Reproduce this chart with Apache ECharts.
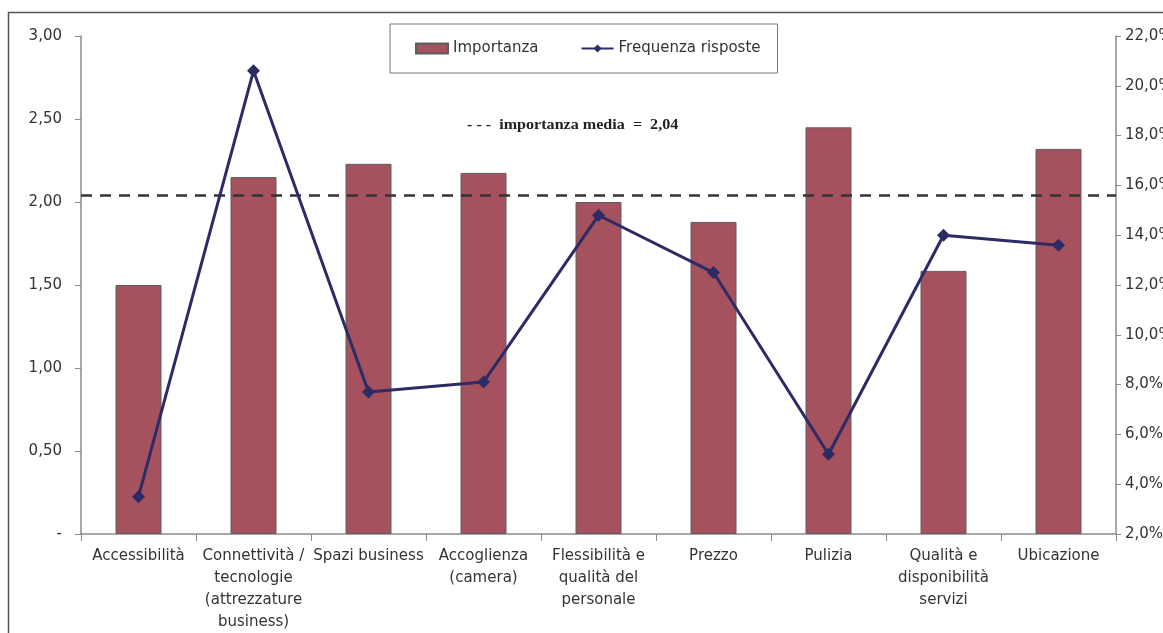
<!DOCTYPE html>
<html>
<head>
<meta charset="utf-8">
<script src="https://cdn.jsdelivr.net/npm/echarts@6/dist/echarts.min.js"></script>
<style>
  html, body { margin: 0; padding: 0; background: #ffffff; }
  #chart { width: 1163px; height: 633px; }
</style>
</head>
<body>
<div id="chart"></div>
<script>
// Fattori valutati
const categorie = [
  'Accessibilità',
  'Connettività /\ntecnologie\n(attrezzature\nbusiness)',
  'Spazi business',
  'Accoglienza\n(camera)',
  'Flessibilità e\nqualità del\npersonale',
  'Prezzo',
  'Pulizia',
  'Qualità e\ndisponibilità\nservizi',
  'Ubicazione'
];

// Importanza media attribuita (scala 0-3)
const importanza = [1.50, 2.15, 2.23, 2.175, 2.00, 1.88, 2.45, 1.585, 2.32];

// Frequenza delle risposte (%)
const frequenza = [3.5, 20.6, 7.7, 8.1, 14.8, 12.5, 5.2, 14.0, 13.6];

// Valore medio dell'importanza
const importanzaMedia = 2.04;

const fmtNum = (v, d) => v.toFixed(d).replace('.', ',');

const FONT = '"DejaVu Sans", "Liberation Sans", Arial, sans-serif';
const AXIS_GREY = '#8a8a8a';
const TEXT = '#333333';

const chart = echarts.init(document.getElementById('chart'), null, { renderer: 'canvas' });

chart.setOption({
  backgroundColor: '#ffffff',
  animation: false,
  textStyle: { fontFamily: FONT },
  grid: {
    left: 81, right: 47, top: 36, bottom: 99,
    containLabel: false,
    outerBoundsMode: 'none'
  },
  legend: {
    left: 390,
    top: 24,
    padding: [17, 17, 17, 25],
    itemGap: 42,
    itemWidth: 32,
    itemHeight: 10,
    borderColor: '#777777',
    borderWidth: 1,
    textStyle: { fontFamily: FONT, fontSize: 15, color: TEXT },
    data: [
      { name: 'Importanza', icon: 'rect' },
      { name: 'Frequenza risposte' }
    ]
  },
  graphic: [
    {
      // cornice dell'area del grafico
      type: 'rect',
      z: 0,
      silent: true,
      shape: { x: 8.5, y: 12.5, width: 1200, height: 700 },
      style: { fill: null, stroke: '#555555', lineWidth: 1.5 }
    },
    {
      type: 'text',
      left: 467,
      top: 118,
      z: 10,
      style: {
        text: '- - -  importanza media  =  ' + fmtNum(importanzaMedia, 2),
        font: 'bold 14px "Liberation Serif", "Times New Roman", serif',
        fill: '#222222'
      },
      scaleX: 1.15
    }
  ],
  xAxis: {
    type: 'category',
    data: categorie,
    boundaryGap: true,
    axisLine: { lineStyle: { color: AXIS_GREY, width: 1.5 } },
    axisTick: { show: true, length: 7, lineStyle: { color: AXIS_GREY } },
    axisLabel: {
      interval: 0,
      margin: 11,
      fontFamily: FONT,
      fontSize: 15,
      lineHeight: 22,
      color: TEXT,
      align: 'center'
    }
  },
  yAxis: [
    {
      type: 'value',
      min: 0,
      max: 3,
      interval: 0.5,
      position: 'left',
      splitLine: { show: false },
      axisLine: { show: true, lineStyle: { color: AXIS_GREY, width: 1.5 } },
      axisTick: { show: true, length: 6, lineStyle: { color: AXIS_GREY } },
      axisLabel: {
        margin: 19,
        fontFamily: FONT,
        fontSize: 15,
        color: TEXT,
        formatter: v => (v === 0 ? '-' : fmtNum(v, 2))
      }
    },
    {
      type: 'value',
      min: 2,
      max: 22,
      interval: 2,
      position: 'right',
      splitLine: { show: false },
      axisLine: { show: true, lineStyle: { color: AXIS_GREY, width: 1.5 } },
      axisTick: { show: true, length: 5, lineStyle: { color: AXIS_GREY } },
      axisLabel: {
        margin: 9,
        fontFamily: FONT,
        fontSize: 15,
        color: TEXT,
        formatter: v => fmtNum(v, 1) + '%'
      }
    }
  ],
  series: [
    {
      name: 'Importanza',
      type: 'bar',
      yAxisIndex: 0,
      data: importanza,
      barWidth: '40%',
      itemStyle: { color: '#A5515E', borderColor: '#5e5e5e', borderWidth: 1 },
      markLine: {
        silent: true,
        symbol: 'none',
        label: { show: false },
        lineStyle: { color: '#333333', type: [11, 8], width: 2.5 },
        data: [{ yAxis: importanzaMedia }]
      },
      z: 2
    },
    {
      name: 'Frequenza risposte',
      type: 'line',
      yAxisIndex: 1,
      data: frequenza,
      symbol: 'diamond',
      symbolSize: 13,
      lineStyle: { color: '#2C2B66', width: 3 },
      itemStyle: { color: '#2C2B66' },
      z: 5
    }
  ]
});
</script>
</body>
</html>
